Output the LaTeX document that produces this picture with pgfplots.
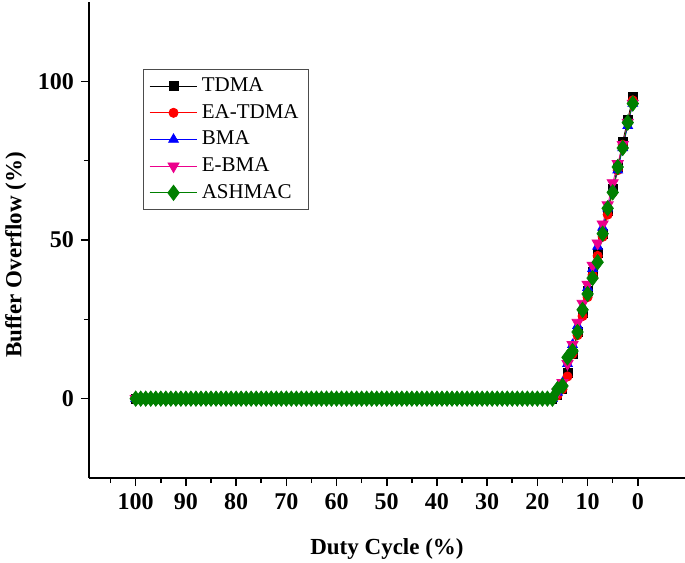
\documentclass[border=0pt]{standalone}
\usepackage{pgfplots}
\pgfplotsset{compat=1.18}
\usepackage{pgfplotstable}
\usepackage{fontspec}
\setmainfont{Liberation Serif}
\definecolor{dgreen}{RGB}{0,128,0}
\pgfplotstableread{
x tdma ea bma ebma ash
1 95 94 93 93 93
2 88 87 86 87 87
3 81 80 79 80 79
4 73 72 72 74 73
5 66 65 66 68 65
6 59 58 60 61 60
7 52 51 54 55 52
8 46 45 48 49 43
9 40 39 41 42 38
10 34 32 35 36 33
11 27 26 29 30 28
12 21 20 23 24 21
13 14 14 17 17 15
14 8 7 11 11 13
15 3 3 5 5 4
16 1 1 2 2 3
17 0 0 0 0 0
18 0 0 0 0 0
19 0 0 0 0 0
20 0 0 0 0 0
21 0 0 0 0 0
22 0 0 0 0 0
23 0 0 0 0 0
24 0 0 0 0 0
25 0 0 0 0 0
26 0 0 0 0 0
27 0 0 0 0 0
28 0 0 0 0 0
29 0 0 0 0 0
30 0 0 0 0 0
31 0 0 0 0 0
32 0 0 0 0 0
33 0 0 0 0 0
34 0 0 0 0 0
35 0 0 0 0 0
36 0 0 0 0 0
37 0 0 0 0 0
38 0 0 0 0 0
39 0 0 0 0 0
40 0 0 0 0 0
41 0 0 0 0 0
42 0 0 0 0 0
43 0 0 0 0 0
44 0 0 0 0 0
45 0 0 0 0 0
46 0 0 0 0 0
47 0 0 0 0 0
48 0 0 0 0 0
49 0 0 0 0 0
50 0 0 0 0 0
51 0 0 0 0 0
52 0 0 0 0 0
53 0 0 0 0 0
54 0 0 0 0 0
55 0 0 0 0 0
56 0 0 0 0 0
57 0 0 0 0 0
58 0 0 0 0 0
59 0 0 0 0 0
60 0 0 0 0 0
61 0 0 0 0 0
62 0 0 0 0 0
63 0 0 0 0 0
64 0 0 0 0 0
65 0 0 0 0 0
66 0 0 0 0 0
67 0 0 0 0 0
68 0 0 0 0 0
69 0 0 0 0 0
70 0 0 0 0 0
71 0 0 0 0 0
72 0 0 0 0 0
73 0 0 0 0 0
74 0 0 0 0 0
75 0 0 0 0 0
76 0 0 0 0 0
77 0 0 0 0 0
78 0 0 0 0 0
79 0 0 0 0 0
80 0 0 0 0 0
81 0 0 0 0 0
82 0 0 0 0 0
83 0 0 0 0 0
84 0 0 0 0 0
85 0 0 0 0 0
86 0 0 0 0 0
87 0 0 0 0 0
88 0 0 0 0 0
89 0 0 0 0 0
90 0 0 0 0 0
91 0 0 0 0 0
92 0 0 0 0 0
93 0 0 0 0 0
94 0 0 0 0 0
95 0 0 0 0 0
96 0 0 0 0 0
97 0 0 0 0 0
98 0 0 0 0 0
99 0 0 0 0 0
100 0 0 0 0 0
}\data
\begin{document}
\begin{tikzpicture}
\begin{axis}[
  scale only axis,
  width=298pt, height=238pt,
  x dir=reverse,
  xmin=-9.4, xmax=109.3,
  ymin=-25, ymax=125,
  axis x line*=bottom, axis y line*=left,
  axis line style={line width=0.8pt, -},
  xtick={0,10,...,100},
  minor xtick={5,15,...,105},
  ytick={0,50,100},
  minor ytick={25,75},
  tick align=outside,
  major tick length=4pt, minor tick length=2.5pt,
  every tick/.style={line width=0.8pt, black},
  /pgf/number format/assume math mode=true,
  tick label style={font=\fontsize{12}{14}\selectfont\bfseries},
  xlabel={Duty Cycle (\%)},
  ylabel={Buffer Overflow (\%)},
  label style={font=\fontsize{11.5}{13}\selectfont\bfseries},
  xlabel style={yshift=-8pt},
  ylabel style={yshift=-1pt, xshift=-7.5pt},
  legend style={at={(0.09,0.859)}, anchor=north west, draw=black!70, line width=0.6pt,
    font=\fontsize{10.5}{12}\selectfont, row sep=0.9pt, inner xsep=3pt, inner ysep=2pt},
  legend cell align=left,
  legend image code/.code={\draw[mark repeat=2,mark phase=2,#1] plot coordinates {(0cm,0cm) (0.42cm,0cm) (0.84cm,0cm)};},
]
\addplot[black, line width=0.4pt, mark=square*, mark size=2.2pt] table[x=x,y=tdma]{\data};
\addlegendentry{TDMA}
\addplot[red, line width=0.4pt, mark=*, mark size=2.3pt] table[x=x,y=ea]{\data};
\addlegendentry{EA-TDMA}
\addplot[blue, line width=0.4pt, mark=triangle*, mark size=2.8pt] table[x=x,y=bma]{\data};
\addlegendentry{BMA}
\addplot[magenta, line width=0.4pt, mark=triangle*, mark size=3.2pt, mark options={rotate=180}] table[x=x,y=ebma]{\data};
\addlegendentry{E-BMA}
\addplot[dgreen, line width=0.4pt, mark=diamond*, mark size=3.8pt] table[x=x,y=ash]{\data};
\addlegendentry{ASHMAC}
\end{axis}
\pgfresetboundingbox
\path[use as bounding box] ([xshift=-44.5pt,yshift=-42pt]current axis.south west) rectangle ([yshift=1pt]current axis.north east);
\end{tikzpicture}
\end{document}
